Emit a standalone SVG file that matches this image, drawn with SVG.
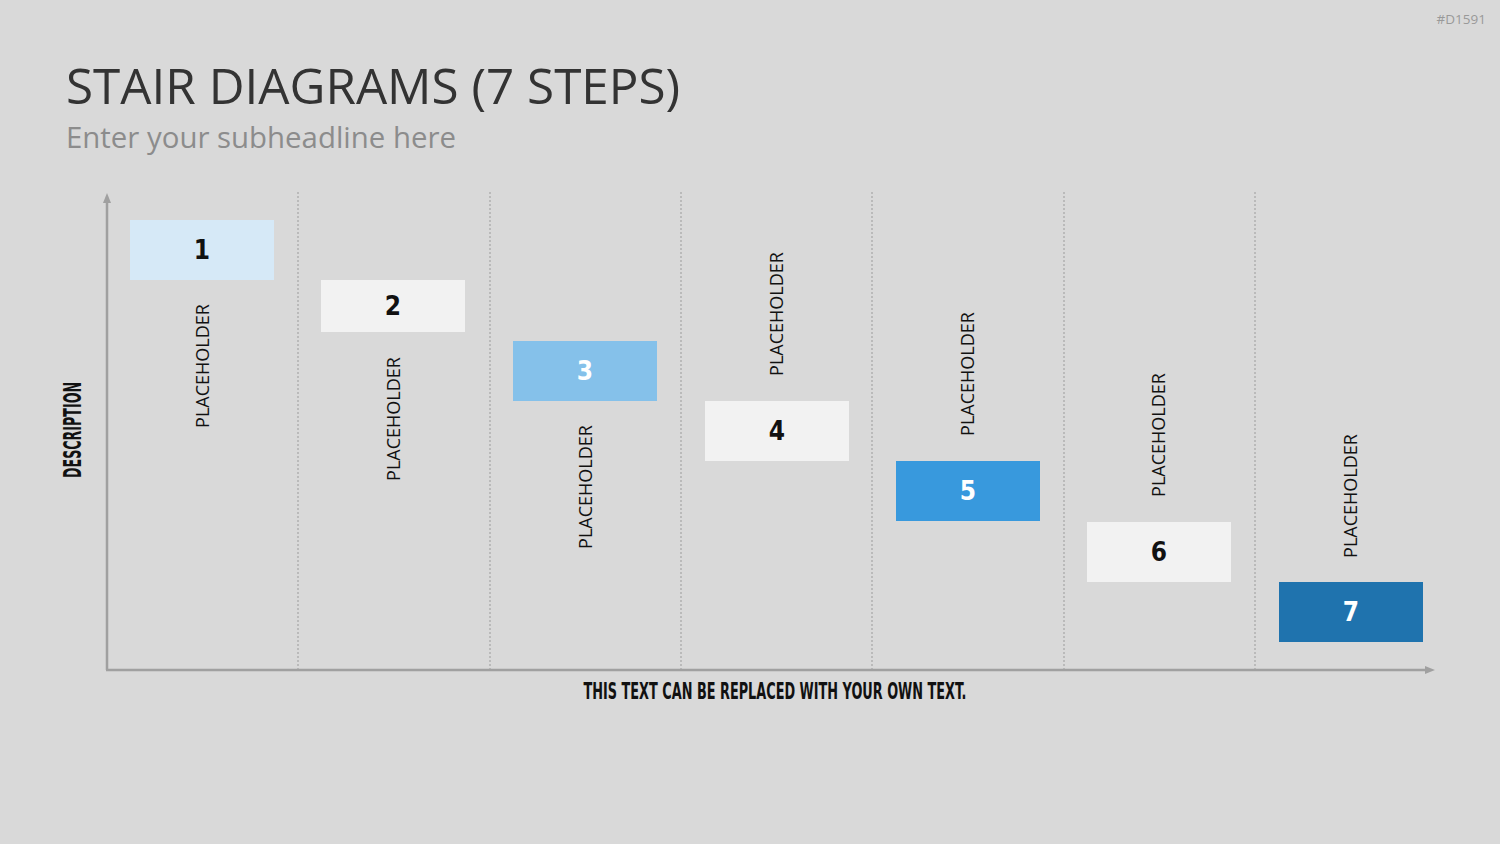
<svg xmlns="http://www.w3.org/2000/svg" width="1500" height="844" viewBox="0 0 1500 844">
<defs>
<style>
.title{font-family:"Open Sans","Liberation Sans",sans-serif;font-size:49.4px;fill:#333333}
.sub{font-family:"Open Sans","Liberation Sans",sans-serif;font-size:29.4px;fill:#8c8c8c}
.code{font-family:"Open Sans","Liberation Sans",sans-serif;font-size:13.5px;fill:#999999}
.cond{font-family:"DejaVu Sans Condensed","DejaVu Sans",sans-serif;font-weight:bold;fill:#111111}
.num{font-family:"DejaVu Sans Condensed","DejaVu Sans",sans-serif;font-weight:bold;font-size:26px;text-anchor:middle}
.dark{fill:#111111}
.light{fill:#ffffff}
.ph{font-family:"Open Sans","Liberation Sans",sans-serif;font-size:18px;fill:#111111;text-anchor:middle}
.grid{stroke:#a6a6a6;stroke-width:1.2;stroke-dasharray:2 2}
.axis{stroke:#a0a0a0;stroke-width:2.5;fill:none}
</style>
<marker id="arr" markerWidth="10" markerHeight="10" refX="5" refY="5" orient="auto" markerUnits="userSpaceOnUse">
<path d="M0,1 L10,5 L0,9 Z" fill="#a0a0a0"/>
</marker>
</defs>
<rect width="1500" height="844" fill="#d9d9d9"/>
<text class="code" x="1486" y="24" text-anchor="end">#D1591</text>
<text class="title" x="66" y="104">STAIR DIAGRAMS (7 STEPS)</text>
<text class="sub" x="66" y="148">Enter your subheadline here</text>

<g id="connectors">
<line class="grid" x1="298" y1="192" x2="298" y2="670"/>
<line class="grid" x1="490" y1="192" x2="490" y2="670"/>
<line class="grid" x1="681" y1="192" x2="681" y2="670"/>
<line class="grid" x1="872" y1="192" x2="872" y2="670"/>
<line class="grid" x1="1064" y1="192" x2="1064" y2="670"/>
<line class="grid" x1="1255" y1="192" x2="1255" y2="670"/>
<path class="axis" d="M107,670 L107,198" marker-end="url(#arr)"/>
<path class="axis" d="M106,670 L1430,670" marker-end="url(#arr)"/>
</g>

<text class="cond" font-size="24" textLength="96" lengthAdjust="spacingAndGlyphs" transform="translate(81,430) rotate(-90)" text-anchor="middle">DESCRIPTION</text>
<text class="cond" font-size="23" x="775" y="699" textLength="383" lengthAdjust="spacingAndGlyphs" text-anchor="middle">THIS TEXT CAN BE REPLACED WITH YOUR OWN TEXT.</text>

<g id="step1">
<rect x="130" y="220" width="144" height="60" fill="#d6e9f7"/>
<text class="num dark" x="202" y="259">1</text>
<text class="ph" transform="translate(209,366) rotate(-90)">PLACEHOLDER</text>
</g>
<g id="step2">
<rect x="321" y="280" width="144" height="52" fill="#f2f2f2"/>
<text class="num dark" x="393" y="315">2</text>
<text class="ph" transform="translate(400,419) rotate(-90)">PLACEHOLDER</text>
</g>
<g id="step3">
<rect x="513" y="341" width="144" height="60" fill="#85c1ea"/>
<text class="num light" x="585" y="380">3</text>
<text class="ph" transform="translate(592,487) rotate(-90)">PLACEHOLDER</text>
</g>
<g id="step4">
<rect x="705" y="401" width="144" height="60" fill="#f2f2f2"/>
<text class="num dark" x="777" y="440">4</text>
<text class="ph" transform="translate(783,314) rotate(-90)">PLACEHOLDER</text>
</g>
<g id="step5">
<rect x="896" y="461" width="144" height="60" fill="#3899dd"/>
<text class="num light" x="968" y="500">5</text>
<text class="ph" transform="translate(974,374) rotate(-90)">PLACEHOLDER</text>
</g>
<g id="step6">
<rect x="1087" y="522" width="144" height="60" fill="#f2f2f2"/>
<text class="num dark" x="1159" y="561">6</text>
<text class="ph" transform="translate(1165,435) rotate(-90)">PLACEHOLDER</text>
</g>
<g id="step7">
<rect x="1279" y="582" width="144" height="60" fill="#1f73ae"/>
<text class="num light" x="1351" y="621">7</text>
<text class="ph" transform="translate(1357,496) rotate(-90)">PLACEHOLDER</text>
</g>
</svg>
